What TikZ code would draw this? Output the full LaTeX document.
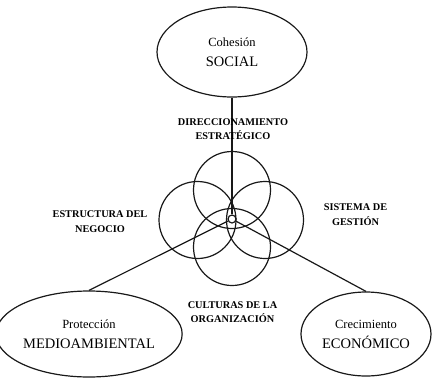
\documentclass[tikz,border=0pt]{standalone}
\usepackage{fontspec}
\setmainfont{Liberation Serif}
\usepackage{tikz}
\usetikzlibrary{shapes.geometric, positioning}
\definecolor{inkcolor}{RGB}{25, 25, 25}

\tikzset{
    pillar/.style={draw=inkcolor, line width=1.2pt, ellipse, inner sep=0pt, align=center, font=\fontsize{12.5}{20}\selectfont},
    ring/.style={draw=inkcolor, line width=1.2pt, circle, minimum size=77pt, inner sep=0pt},
    tag/.style={align=center, inner sep=0pt, font=\bfseries\fontsize{10.3}{14.5}\selectfont},
    link/.style={draw=inkcolor, line width=1.2pt}
}

\begin{document}
\begin{tikzpicture}[x=1pt, y=-1pt]
    \useasboundingbox (0,0) rectangle (434,378);

    % Pillars
    \node[pillar, minimum width=150pt, minimum height=90pt] (social) at (232, 52) {Cohesión\\{\fontsize{14.5}{20}\selectfont SOCIAL}};
    \node[pillar, minimum width=148pt, minimum height=86pt] (medio) at (89, 334) {Protección\\{\fontsize{14.5}{20}\selectfont MEDIOAMBIENTAL}};
    \node[pillar, minimum width=130pt, minimum height=84pt] (econ) at (366, 334) {Crecimiento\\{\fontsize{14.5}{20}\selectfont ECONÓMICO}};

    % Overlapping rings
    \node[ring] (ringtop) at (232, 190) {};
    \node[ring] (ringleft) at (197.5, 220) {};
    \node[ring] (ringright) at (265, 220) {};
    \node[ring] (ringbottom) at (232, 247) {};
    \node[draw=inkcolor, line width=1.2pt, circle, minimum size=8pt, inner sep=0pt] (hub) at (232, 219) {};

    % Connections
    \draw[link] (social.south) -- (hub);
    \draw[link] (hub) -- (medio.north);
    \draw[link] (hub) -- (econ.north);

    % Labels
    \node[tag] (direc) at (233, 129) {DIRECCIONAMIENTO\\ESTRATÉGICO};
    \node[tag] (estruc) at (100, 221.5) {ESTRUCTURA DEL\\NEGOCIO};
    \node[tag] (gestion) at (355.5, 214.5) {SISTEMA DE\\GESTIÓN};
    \node[tag] (cultura) at (232.5, 312) {CULTURAS DE LA\\ORGANIZACIÓN};
\end{tikzpicture}
\end{document}
